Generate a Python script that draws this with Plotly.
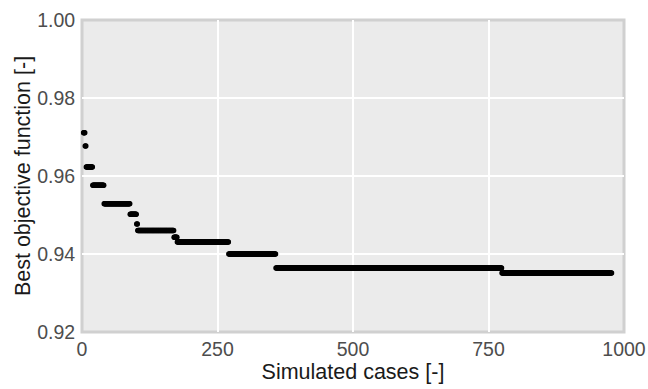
import numpy as np
import plotly.graph_objects as go

# Case number at which each new best objective was found, and that best value
change_cases = [3, 6, 8, 20, 41, 89, 101, 103, 170, 176, 271, 358, 775]
best_levels = [0.9711, 0.9677, 0.9623, 0.9576, 0.9529, 0.9502, 0.9477,
               0.9460, 0.9443, 0.9431, 0.9400, 0.9364, 0.9351]
last_case = 977

x_ticks = [0, 250, 500, 750, 1000]
y_ticks = [0.92, 0.94, 0.96, 0.98, 1.00]

# expand to one point per simulated case (best-so-far)
ends = change_cases[1:] + [last_case + 1]
xs, ys = [], []
for start, end, lvl in zip(change_cases, ends, best_levels):
    for c in range(start, end):
        xs.append(c)
        ys.append(lvl)

fig = go.Figure()
fig.add_trace(go.Scatter(
    x=xs, y=ys, mode="markers",
    marker=dict(color="black", size=5.5, line=dict(width=0)),
    cliponaxis=False, showlegend=False,
))

fig.update_layout(
    width=648, height=389,
    margin=dict(l=82, r=24, t=20, b=57),
    paper_bgcolor="white",
    plot_bgcolor="#EBEBEB",
    font=dict(family="Liberation Sans, Arial, sans-serif", size=19.5, color="#4D4D4D"),
    shapes=[dict(type="rect", xref="paper", yref="paper", x0=0, y0=0, x1=1, y1=1,
                 line=dict(color="#D0D0D0", width=3), layer="below")],
)
fig.update_xaxes(
    range=[0, 1000], tickvals=x_ticks, ticktext=[str(v) for v in x_ticks],
    showgrid=True, gridcolor="white", gridwidth=2, zeroline=False,
    ticks="outside", ticklen=0, tickcolor="rgba(0,0,0,0)",
    tickfont=dict(size=19.5, color="#4D4D4D"), automargin=False,
    title=dict(text="Simulated cases [-]", font=dict(size=21.5, color="#1A1A1A"), standoff=3),
)
fig.update_yaxes(
    range=[0.92, 1.00], tickvals=y_ticks, ticktext=[f"{v:.2f}" for v in y_ticks],
    showgrid=True, gridcolor="white", gridwidth=2, zeroline=False,
    ticks="outside", ticklen=2, tickcolor="rgba(0,0,0,0)",
    tickfont=dict(size=19.5, color="#4D4D4D"), automargin=False,
    title=dict(text="Best objective function [-]", font=dict(size=21.5, color="#1A1A1A"), standoff=0),
)

fig.write_html("out.html")
